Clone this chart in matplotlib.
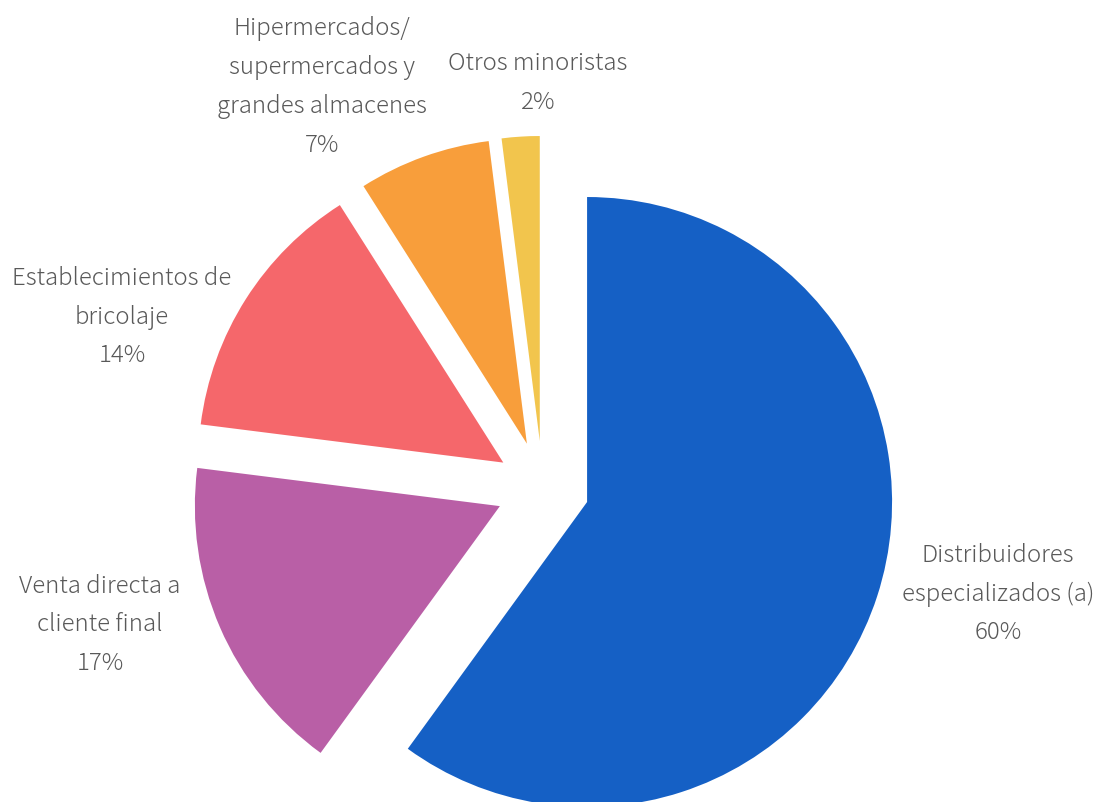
import matplotlib
matplotlib.use("Agg")
from matplotlib import pyplot

pyplot.rcParams['font.family'] = ['Noto Sans CJK JP', 'DejaVu Sans']

# donnees
canaux = ['Distribuidores\nespecializados (a)',
          'Venta directa a\ncliente final',
          'Establecimientos de\nbricolaje',
          'Hipermercados/\nsupermercados y\ngrandes almacenes',
          'Otros minoristas']
parts = [60, 17, 14, 7, 2]

couleurs = ['#1560C5', '#B95FA6', '#F5676B', '#F89E3B', '#F2C54D']

# position des etiquettes (pixels dans l'image)
pos_etiquettes = [(998, 594), (100, 625), (122, 317), (322, 87), (538, 83)]

W, H = 1100, 803
cx, cy, rayon = 542.7, 488.6, 305.0

fig = pyplot.figure(figsize=(W / 100, H / 100), dpi=100)
ax = fig.add_axes([0, 0, 1, 1])

ax.pie(parts, colors=couleurs, startangle=90, counterclock=False,
       explode=[0.153] * len(parts), radius=1.0,
       wedgeprops={'linewidth': 0})

ax.set_aspect('auto')
ax.set_xlim(-cx / rayon, (W - cx) / rayon)
ax.set_ylim(-(H - cy) / rayon, cy / rayon)
ax.axis('off')

for nom, val, (px, py) in zip(canaux, parts, pos_etiquettes):
    ax.text((px - cx) / rayon, (cy - py) / rayon, "%s\n%i%%" % (nom, val),
            ha='center', va='center', color='#595959', fontsize=17.3,
            fontweight='light', linespacing=1.72)

fig.savefig('out.png', dpi=100)
pyplot.close()
